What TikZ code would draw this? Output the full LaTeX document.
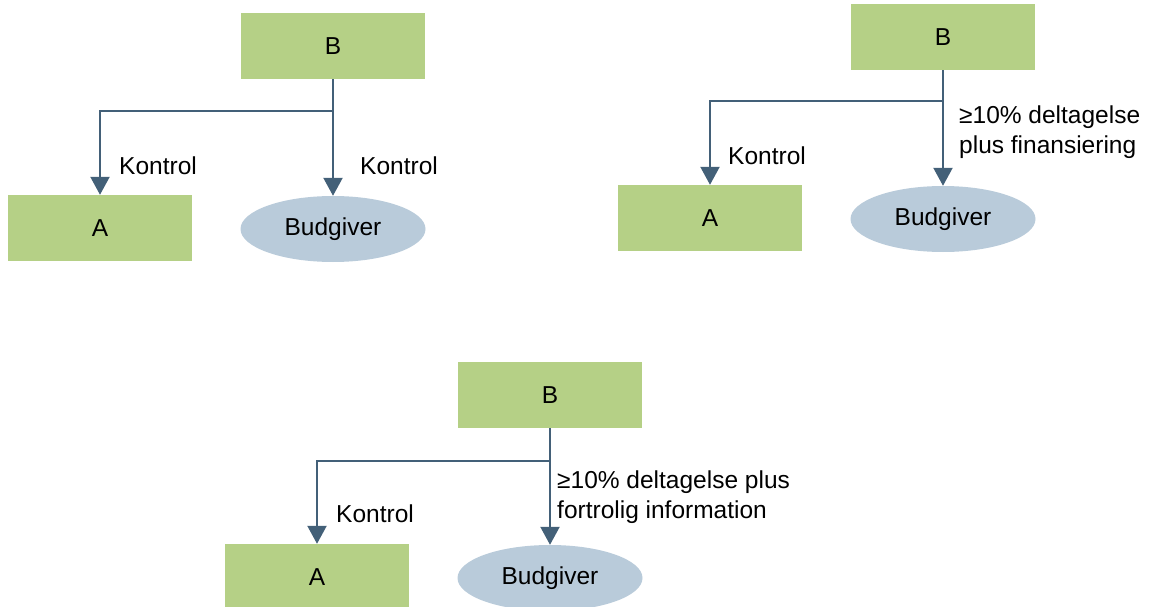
\documentclass[tikz,border=0pt]{standalone}
\usepackage{fontspec}
\setmainfont{Liberation Sans}
\usetikzlibrary{arrows.meta,shapes.geometric}
\definecolor{boxgreen}{RGB}{181,208,134}
\definecolor{ovalblue}{RGB}{185,203,218}
\definecolor{linkblue}{RGB}{67,96,120}

\begin{document}
\begin{tikzpicture}[x=1pt,y=-1pt,
    firm/.style={rectangle,fill=boxgreen,minimum width=184pt,minimum height=66pt,inner sep=0pt},
    bidder/.style={ellipse,fill=ovalblue,minimum width=185pt,minimum height=66pt,inner sep=0pt},
    link/.style={draw=linkblue,line width=2.2pt},
    tolink/.style={link,-{Triangle[width=19pt,length=18pt]}},
    lbl/.style={anchor=west,inner sep=0pt,align=left},
    font=\fontsize{24.5}{30.5}\selectfont]
\useasboundingbox (0,0) rectangle (1159,607);

% first case
\node [firm] (b1) at (333,46) {B};
\node [firm] (a1) at (100,228) {A};
\node [bidder] (c1) at (333,229) {Budgiver};
\coordinate (j1) at (333,111);
\draw [link] (b1.south) -- (j1);
\draw [tolink] (j1) -| (a1.north);
\draw [tolink] (j1) -- (c1.north);
\node [lbl] (k1a) at (119,166) {Kontrol};
\node [lbl] (k1b) at (360,166) {Kontrol};

% second case
\node [firm] (b2) at (943,37) {B};
\node [firm] (a2) at (710,218) {A};
\node [bidder] (c2) at (943,219) {Budgiver};
\coordinate (j2) at (943,101);
\draw [link] (b2.south) -- (j2);
\draw [tolink] (j2) -| (a2.north);
\draw [tolink] (j2) -- (c2.north);
\node [lbl] (k2) at (728,156) {Kontrol};
\node [lbl] (f2) at (959,132) {≥10\% deltagelse\\plus finansiering};

% third case
\node [firm] (b3) at (550,395) {B};
\node [firm] (a3) at (317,577) {A};
\node [bidder] (c3) at (550,578) {Budgiver};
\coordinate (j3) at (550,461);
\draw [link] (b3.south) -- (j3);
\draw [tolink] (j3) -| (a3.north);
\draw [tolink] (j3) -- (c3.north);
\node [lbl] (k3) at (336,514) {Kontrol};
\node [lbl] (f3) at (557,497) {≥10\% deltagelse plus\\fortrolig information};
\end{tikzpicture}
\end{document}
